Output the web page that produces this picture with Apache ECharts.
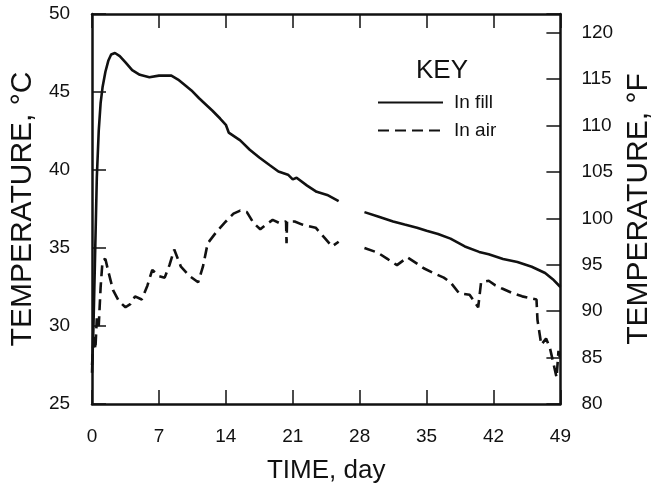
<!DOCTYPE html>
<html>
<head>
<meta charset="utf-8">
<script src="https://cdn.jsdelivr.net/npm/echarts@6/dist/echarts.min.js"></script>
<style>
  html, body { margin: 0; padding: 0; background: #fff; }
  #chart { width: 662px; height: 493px; }
</style>
</head>
<body>
<div id="chart"></div>
<script>
  // time in days, temperature in °C (null = gap in the record)
  var fillDays = [0, 0.15, 0.3, 0.5, 0.7, 0.9, 1.1, 1.4, 1.7, 2.0, 2.4, 2.9, 3.5, 4.2, 5.0, 6.0, 7.0, 8.3, 9.0, 9.8,
    10.4, 11.2, 11.9, 12.6, 13.4, 14.0, 14.3, 14.5, 15.5, 16.5, 17.5, 18.6, 19.5, 20.5, 21.0, 21.4, 22.5, 23.5, 24.6, 25.8,
    27, 28.5, 30, 31.5, 32.7, 34, 35, 36.2, 37.5, 39, 40.5, 41.5, 43, 44.5, 46, 47.4, 48.2, 49];
  var fillTemps = [27, 30, 34, 39.5, 42.5, 44.3, 45.3, 46.3, 47, 47.4, 47.5, 47.3, 46.9, 46.4, 46.1, 45.95, 46.05, 46.05, 45.8, 45.4,
    45.1, 44.6, 44.2, 43.8, 43.3, 42.9, 42.4, 42.5, 41.9, 41.3, 40.8, 40.3, 39.9, 39.7, 39.4, 39.5, 39.0, 38.6, 38.4, 38.0,
    null, 37.3, 37.0, 36.7, 36.5, 36.3, 36.1, 35.9, 35.6, 35.1, 34.75, 34.6, 34.3, 34.1, 33.8, 33.4, 33.0, 32.5];

  var airDays = [0, 0.2, 0.35, 0.5, 0.7, 0.9, 1.1, 1.4, 1.7, 2.2, 2.8, 3.5, 4.0, 4.5, 5.2, 5.8, 6.3, 7.0, 7.6, 8.1,
    8.6, 9.3, 10.2, 11.1, 11.6, 12.1, 13.1, 14.0, 14.8, 15.5, 16.2, 16.9, 17.6, 18.2, 18.9, 19.6, 20.3, 20.35, 20.4, 21.2,
    22, 23.4, 24.4, 25.1, 25.8, 27, 28.5, 29.9, 30.9, 31.9, 33, 34, 34.7, 35.7, 36.8, 37.5, 38.4, 39.5, 40.4, 40.7,
    41.5, 42.2, 42.9, 44, 45, 46.5, 46.6, 47, 47.5, 47.9, 48.2, 48.6, 48.8, 49];
  var airTemps = [27.5, 29.5, 28.5, 30.5, 30, 32.5, 34.2, 34.3, 33.5, 32.3, 31.6, 31.2, 31.4, 31.9, 31.7, 32.6, 33.6, 33.2, 33.1, 33.9,
    34.9, 33.8, 33.2, 32.8, 33.8, 35.3, 36.1, 36.7, 37.2, 37.4, 37.3, 36.6, 36.2, 36.5, 36.8, 36.6, 36.7, 35.3, 36.7, 36.7,
    36.5, 36.3, 35.6, 35.1, 35.4, null, 35.0, 34.7, 34.3, 33.9, 34.4, 34.0, 33.7, 33.4, 33.1, 32.8, 32.1, 32.0, 31.2, 32.8,
    32.9, 32.6, 32.4, 32.1, 31.9, 31.7, 30.4, 28.8, 29.2, 28.6, 27.8, 26.7, 28.4, 27.8];

  var seriesNames = ['In fill', 'In air'];

  function pairs(xs, ys) {
    return xs.map(function (x, i) { return [x, ys[i] === null ? '-' : ys[i]]; });
  }

  var ink = '#111';
  var font = 'Liberation Sans, Arial, sans-serif';
  var frame = { onZero: false, show: true, lineStyle: { color: ink, width: 2.5 } };
  var ticks = { inside: true, length: 14, lineStyle: { color: ink, width: 1.5 } };

  var chart = echarts.init(document.getElementById('chart'));
  var option = {
    backgroundColor: '#fff',
    animation: false,
    title: {
      text: 'KEY',
      left: 411, top: 53,
      textStyle: { fontFamily: font, fontSize: 26, fontWeight: 'normal', color: ink }
    },
    legend: {
      orient: 'vertical',
      left: 372, top: 88,
      itemWidth: 65, itemHeight: 20, itemGap: 9,
      itemStyle: { opacity: 0 },   // line only, no marker on the key
      data: seriesNames,
      textStyle: { fontFamily: font, fontSize: 19, color: ink, padding: [0, 0, 0, 6] }
    },
    grid: { left: 89, right: 96, top: 14, bottom: 89 },
    xAxis: [{
      type: 'value', min: 0, max: 49, interval: 7,
      name: 'TIME, day', nameLocation: 'middle', nameGap: 54,
      nameTextStyle: { fontFamily: font, fontSize: 26, color: ink },
      axisLine: frame,
      axisTick: ticks,
      axisLabel: { margin: 23, fontFamily: font, fontSize: 19, color: ink },
      splitLine: { show: false }
    }, {
      type: 'value', min: 0, max: 49, interval: 7, position: 'top',
      axisLine: frame,
      axisTick: ticks,
      axisLabel: { show: false },
      splitLine: { show: false }
    }],
    yAxis: [{
      type: 'value', min: 25, max: 50, interval: 5,
      name: 'TEMPERATURE, °C', nameLocation: 'middle', nameGap: 46,
      nameTextStyle: { fontFamily: font, fontSize: 30, color: ink },
      axisLine: frame,
      axisTick: ticks,
      axisLabel: { margin: 22, fontFamily: font, fontSize: 19, color: ink },
      splitLine: { show: false }
    }, {
      type: 'value', min: 80, max: 122, interval: 5, position: 'right',
      name: 'TEMPERATURE, °F', nameLocation: 'middle', nameGap: 62, nameRotate: 90,
      nameTextStyle: { fontFamily: font, fontSize: 30, color: ink },
      axisLine: frame,
      axisTick: ticks,
      axisLabel: {
        margin: 21, fontFamily: font, fontSize: 19, color: ink,
        formatter: function (v) { return v % 5 === 0 ? String(v) : ''; }
      },
      splitLine: { show: false }
    }],
    series: [{
      name: seriesNames[0],
      type: 'line',
      symbol: 'none',
      connectNulls: false,
      lineStyle: { color: ink, width: 2.6 },
      itemStyle: { color: ink },
      data: pairs(fillDays, fillTemps)
    }, {
      name: seriesNames[1],
      type: 'line',
      symbol: 'none',
      connectNulls: false,
      lineStyle: { color: ink, width: 2.6, type: [11, 6] },
      itemStyle: { color: ink },
      data: pairs(airDays, airTemps)
    }]
  };
  chart.setOption(option);
</script>
</body>
</html>
